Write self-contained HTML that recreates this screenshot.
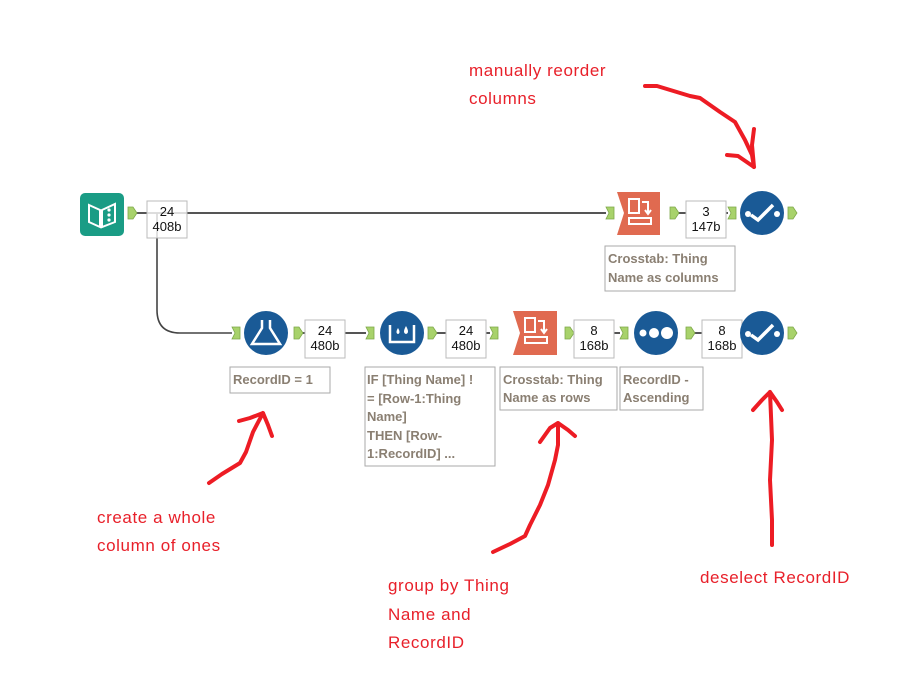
<!DOCTYPE html>
<html><head><style>
body{margin:0;background:#fff;width:905px;height:682px;overflow:hidden}
svg{display:block}
.lb{font-family:"Liberation Sans",sans-serif;font-size:13px;fill:#8a7f72;font-weight:bold}
.nb{font-family:"Liberation Sans",sans-serif;font-size:13px;fill:#111;text-anchor:middle}
.rd{font-family:"Liberation Sans",sans-serif;font-size:17px;fill:#e8202a;letter-spacing:0.6px}
.ar{fill:none;stroke:#ed1c24;stroke-width:4;stroke-linecap:round;stroke-linejoin:round}
</style></head><body>
<svg width="905" height="682" viewBox="0 0 905 682">
<defs>
<g id="anc"><path d="M0,-6 L5,-6 L9,0 L5,6 L0,6 Z" fill="#a8d26b" stroke="#7ea84a" stroke-width="0.8"/></g>
<g id="inc"><path d="M0,-6 L8,-6 L8,6 L0,6 L3,0 Z" fill="#a8d26b" stroke="#7ea84a" stroke-width="0.8"/></g>
</defs>
<path d="M136,213 H606" stroke="#555" stroke-width="2" fill="none"/>
<path d="M157,213 V310 Q157,333 180,333 H232" stroke="#444" stroke-width="1.6" fill="none"/>
<path d="M670,213 H686 M726,213 H728" stroke="#555" stroke-width="2"/>
<path d="M294,333 H366 M428,333 H490 M565,333 H620 M686,333 H702" stroke="#555" stroke-width="2"/>
<rect x="80" y="193" width="44" height="43" rx="5" fill="#1a9c85"/>
<path d="M89,205 L100,210 L100,227 L89,222 Z M102,210 L115,204 L115,222 L102,227 Z" fill="none" stroke="#fff" stroke-width="2"/>
<circle cx="109" cy="210" r="1.6" fill="#fff"/><circle cx="109" cy="215" r="1.6" fill="#fff"/><circle cx="109" cy="220" r="1.6" fill="#fff"/>
<use href="#anc" x="128" y="213"/>
<rect x="147" y="201" width="40" height="37" fill="#fff" fill-opacity="0.8" stroke="#bbb"/>
<text class="nb" x="167" y="216">24</text><text class="nb" x="167" y="231">408b</text>
<use href="#inc" x="606" y="213"/>
<path d="M617,192 H660 V235 H617 L624,213 Z" fill="#e06a50"/>
<rect x="629" y="199" width="10" height="14" fill="none" stroke="#fff" stroke-width="2"/>
<path d="M642,202 H648 V213 M645,210 L648,214 L651,210" stroke="#fff" stroke-width="2" fill="none"/>
<rect x="629" y="218" width="22" height="6" fill="none" stroke="#fff" stroke-width="2"/>
<use href="#anc" x="670" y="213"/>
<rect x="686" y="201" width="40" height="37" fill="#fff" stroke="#bbb"/>
<text class="nb" x="706" y="216">3</text><text class="nb" x="706" y="231">147b</text>
<use href="#inc" x="728" y="213"/>
<circle cx="762" cy="213" r="22" fill="#1a5a96"/>
<path d="M751,215 L758,220 L773,205" stroke="#fff" stroke-width="3.5" fill="none"/><circle cx="748" cy="214" r="3" fill="#fff"/><circle cx="777" cy="214" r="3" fill="#fff"/>
<use href="#anc" x="788" y="213"/>
<rect x="605" y="246" width="130" height="45" fill="#fff" stroke="#aaa"/>
<text class="lb" x="608" y="263">Crosstab: Thing</text><text class="lb" x="608" y="282">Name as columns</text>
<use href="#inc" x="232" y="333"/>
<circle cx="266" cy="333" r="22" fill="#1a5a96"/>
<path d="M262,320 V328 L252,344 H280 L270,328 V320" stroke="#fff" stroke-width="2.5" fill="none"/>
<use href="#anc" x="294" y="333"/>
<rect x="305" y="320" width="40" height="38" fill="#fff" stroke="#bbb"/>
<text class="nb" x="325" y="335">24</text><text class="nb" x="325" y="350">480b</text>
<use href="#inc" x="366" y="333"/>
<circle cx="402" cy="333" r="22" fill="#1a5a96"/>
<path d="M390,325 V342 H414 V325" stroke="#fff" stroke-width="2.5" fill="none"/>
<path d="M398,328 q-3,5 0,6 q3,-1 0,-6 M406,326 q-4,7 0,8 q4,-1 0,-8" fill="#fff"/>
<use href="#anc" x="428" y="333"/>
<rect x="446" y="320" width="40" height="38" fill="#fff" stroke="#bbb"/>
<text class="nb" x="466" y="335">24</text><text class="nb" x="466" y="350">480b</text>
<use href="#inc" x="490" y="333"/>
<path d="M513,311 H557 V355 H513 L520,333 Z" fill="#e06a50"/>
<rect x="525" y="318" width="10" height="14" fill="none" stroke="#fff" stroke-width="2"/>
<path d="M538,321 H544 V332 M541,329 L544,333 L547,329" stroke="#fff" stroke-width="2" fill="none"/>
<rect x="525" y="337" width="22" height="6" fill="none" stroke="#fff" stroke-width="2"/>
<use href="#anc" x="565" y="333"/>
<rect x="574" y="320" width="40" height="38" fill="#fff" stroke="#bbb"/>
<text class="nb" x="594" y="335">8</text><text class="nb" x="594" y="350">168b</text>
<use href="#inc" x="620" y="333"/>
<circle cx="656" cy="333" r="22" fill="#1a5a96"/>
<circle cx="643" cy="333" r="3.5" fill="#fff"/><circle cx="654" cy="333" r="5" fill="#fff"/><circle cx="667" cy="333" r="6" fill="#fff"/>
<use href="#anc" x="686" y="333"/>
<rect x="702" y="320" width="40" height="38" fill="#fff" stroke="#bbb"/>
<text class="nb" x="722" y="335">8</text><text class="nb" x="722" y="350">168b</text>
<circle cx="762" cy="333" r="22" fill="#1a5a96"/>
<path d="M751,335 L758,340 L773,325" stroke="#fff" stroke-width="3.5" fill="none"/><circle cx="748" cy="334" r="3" fill="#fff"/><circle cx="777" cy="334" r="3" fill="#fff"/>
<use href="#anc" x="788" y="333"/>
<rect x="230" y="367" width="100" height="26" fill="#fff" stroke="#aaa"/>
<text class="lb" x="233" y="384">RecordID = 1</text>
<rect x="365" y="367" width="130" height="99" fill="#fff" stroke="#aaa"/>
<text class="lb" x="367" y="384">IF [Thing Name] !</text>
<text class="lb" x="367" y="403">= [Row-1:Thing</text>
<text class="lb" x="367" y="421">Name]</text>
<text class="lb" x="367" y="440">THEN [Row-</text>
<text class="lb" x="367" y="458">1:RecordID] ...</text>
<rect x="500" y="367" width="117" height="43" fill="#fff" stroke="#aaa"/>
<text class="lb" x="503" y="384">Crosstab: Thing</text><text class="lb" x="503" y="402">Name as rows</text>
<rect x="620" y="367" width="83" height="43" fill="#fff" stroke="#aaa"/>
<text class="lb" x="623" y="384">RecordID -</text><text class="lb" x="623" y="402">Ascending</text>
<text class="rd" x="469" y="76">manually reorder</text>
<text class="rd" x="469" y="104">columns</text>
<text class="rd" x="97" y="523">create a whole</text>
<text class="rd" x="97" y="551">column of ones</text>
<text class="rd" x="388" y="591">group by Thing</text>
<text class="rd" x="388" y="620">Name and</text>
<text class="rd" x="388" y="648">RecordID</text>
<text class="rd" x="700" y="583">deselect RecordID</text>
<path class="ar" d="M645,86 L657,86 L690,96 L700,98 L720,112 L735,122 L745,140 L752,155 L754,167 M727,155 L738,156 L754,167 M754,129 L752,145 L754,167"/>
<path class="ar" d="M209,483 L222,474 L240,463 L246,452 L253,432 L263,413 M239,421 L250,418 L263,413 L268,425 L272,436"/>
<path class="ar" d="M493,552 L510,544 L525,536 L530,525 L540,505 L548,485 L555,460 L558,445 L558,423 M540,442 L550,428 L558,423 L568,430 L575,436"/>
<path class="ar" d="M772,545 L772,520 L770,480 L772,440 L770,392 M753,410 L762,400 L770,392 L777,402 L782,410"/>
</svg>
</body></html>
